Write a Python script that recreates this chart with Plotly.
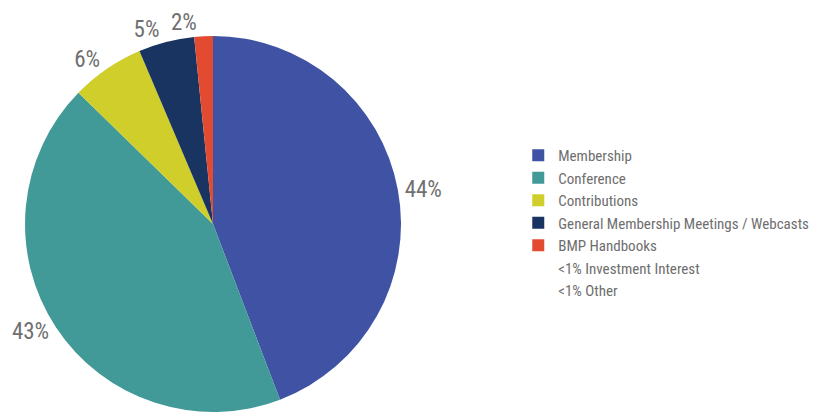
import plotly.graph_objects as go

labels = ["Membership", "Conference", "Contributions",
          "General Membership Meetings / Webcasts", "BMP Handbooks",
          "<1% Investment Interest", "<1% Other"]
values = [44.2, 43.1, 6.3, 4.8, 1.6, 0, 0]
colors = ["#3F52A3", "#419A98", "#CFCE2A", "#1A3461", "#E34B31",
          "rgba(0,0,0,0)", "rgba(0,0,0,0)"]
# which slice labels are drawn by the main trace / by the overlay trace
main_text = [True, True, True, True, False, False, False]
overlay_text = [False, False, False, False, True, False, False]

font_family = "Liberation Sans Narrow, Roboto Condensed, Roboto, sans-serif"
label_font = dict(size=23, color="#707070", family=font_family)
domain = dict(x=[0.0206, 0.4752], y=[0.0218, 0.9322])

fig = go.Figure()
fig.add_trace(go.Pie(
    labels=labels,
    values=values,
    sort=False,
    direction="clockwise",
    rotation=0,
    marker=dict(colors=colors, line=dict(width=0)),
    texttemplate=["%{percent:.0%}" if s else "" for s in main_text],
    textposition="outside",
    textfont=label_font,
    hoverinfo="label+percent",
    domain=domain,
    showlegend=True,
))
fig.add_trace(go.Pie(
    labels=labels,
    values=values,
    sort=False,
    direction="clockwise",
    rotation=0,
    marker=dict(colors=["rgba(0,0,0,0)"] * len(labels), line=dict(width=0)),
    texttemplate=["%{percent:.0%}" if s else "" for s in overlay_text],
    textposition="outside",
    textfont=label_font,
    hoverinfo="skip",
    domain=domain,
    showlegend=False,
))

fig.update_layout(
    width=827, height=413,
    margin=dict(l=0, r=0, t=0, b=0, autoexpand=False),
    paper_bgcolor="white",
    plot_bgcolor="white",
    legend=dict(
        x=0.617, y=0.683, xanchor="left", yanchor="top",
        font=dict(size=15, color="#6E6E6E", family=font_family),
        traceorder="normal",
    ),
)

fig.write_html("out.html")
